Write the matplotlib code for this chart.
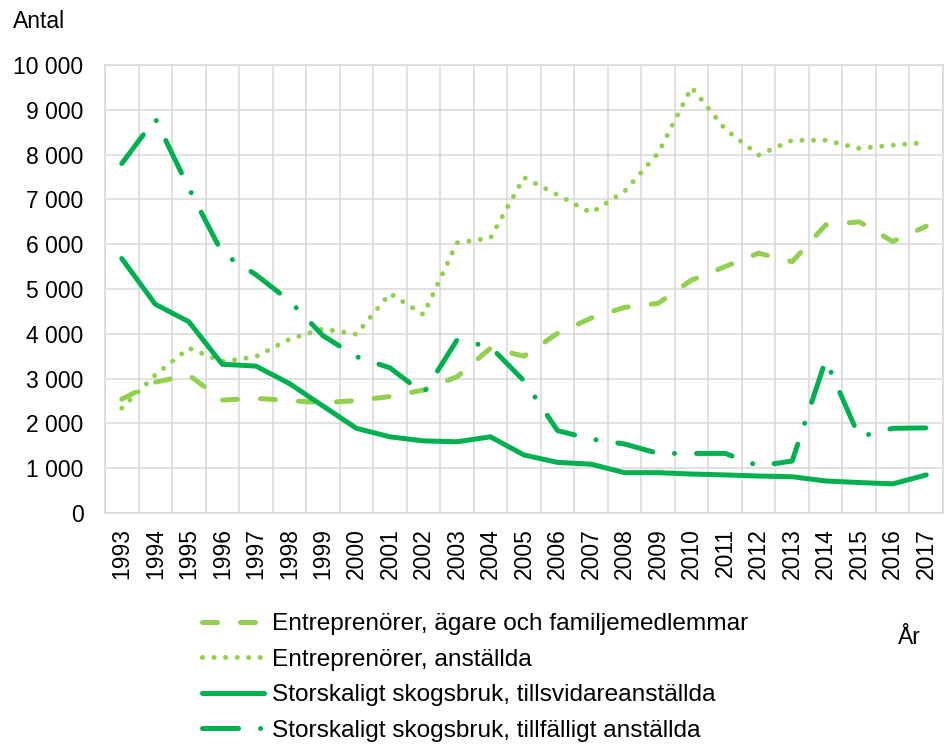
import numpy as np
import matplotlib
matplotlib.use('Agg')
import matplotlib.pyplot as plt
from matplotlib.ticker import FuncFormatter, MultipleLocator, FixedLocator

plt.rcParams['font.family'] = ['Liberation Sans', 'DejaVu Sans']

years = [str(y) for y in range(1993, 2018)]

agare = [2540, 2920, 3080, 2520, 2560, 2510, 2460, 2510, 2600, 2745,
         3040, 3680, 3500, 4010, 4350, 4590, 4680, 5200, 5500, 5800,
         5610, 6430, 6500, 6060, 6400]
anstallda = [2340, 3080, 3680, 3380, 3490, 3880, 4110, 3990, 4900, 4430,
             6030, 6140, 7490, 7100, 6700, 7180, 8030, 9500, 8570, 7990,
             8320, 8320, 8140, 8210, 8270]
tillsvidare = [5680, 4660, 4270, 3320, 3280, 2890, 2390, 1890, 1700, 1610,
               1590, 1700, 1295, 1130, 1090, 900, 900, 870, 850, 825,
               810, 715, 680, 650, 850]
tillfalligt = [7800, 8800, 7250, 5800, 5320, 4740, 3960, 3490, 3240, 2670,
               3860, 3710, 2950, 1840, 1650, 1540, 1330, 1330, 1330, 1050,
               1160, 3415, 1700, 1890, 1900]

labels = ['Entreprenörer, ägare och familjemedlemmar',
          'Entreprenörer, anställda',
          'Storskaligt skogsbruk, tillsvidareanställda',
          'Storskaligt skogsbruk, tillfälligt anställda']

light = '#92D050'
dark = '#00B050'
grid_col = '#d9d9d9'
fs = 16.5
lw = 3.6

fig = plt.figure(figsize=(9.47, 7.44), dpi=100)
ax = fig.add_axes([105/947, 1 - 513/744, (943 - 105)/947, (513 - 65)/744])

x = np.arange(len(years))

ax.plot(x, agare, color=light, lw=lw, dashes=(3, 4.6),
        dash_capstyle='round', label=labels[0])
ax.plot(x, anstallda, color=light, lw=lw, dashes=(0.01, 2.3),
        dash_capstyle='round', label=labels[1])
ax.plot(x, tillsvidare, color=dark, lw=lw, solid_capstyle='round',
        solid_joinstyle='round', label=labels[2])
ax.plot(x, tillfalligt, color=dark, lw=lw, dashes=(7.2, 4.4, 0.01, 4.4),
        dash_capstyle='round', label=labels[3])

ax.set_xlim(-0.5, len(years) - 0.5)
ax.set_ylim(0, 10000)
ax.yaxis.set_major_locator(MultipleLocator(1000))
ax.yaxis.set_major_formatter(FuncFormatter(lambda v, p: f"{int(v):,}".replace(',', ' ')))
ax.set_xticks(x)
ax.set_xticklabels(years, rotation=90, fontsize=fs)
ax.xaxis.set_minor_locator(FixedLocator(np.arange(-0.5, len(years), 1.0)))
ax.tick_params(axis='y', length=0, pad=15.5, labelsize=fs)
ax.tick_params(axis='x', which='both', length=0, pad=11)
ax.grid(axis='y', which='major', color=grid_col, lw=1.1)
ax.grid(axis='x', which='minor', color=grid_col, lw=1.1)
ax.set_axisbelow(True)
for s in ax.spines.values():
    s.set_color(grid_col)
    s.set_linewidth(1.1)

fig.text(13/947, 1 - 21/744, 'Antal', fontsize=fs, va='center', ha='left')
fig.text(898/947, 1 - 637/744, 'År', fontsize=fs, va='center', ha='left')

ax.legend(loc='upper left', bbox_to_anchor=(202/947, 1 - 613/744),
          bbox_transform=fig.transFigure, frameon=False, fontsize=17.6,
          borderpad=0, borderaxespad=0, handlelength=2.55, handletextpad=0.3,
          labelspacing=0.55)

fig.savefig('out.png', dpi=100)
